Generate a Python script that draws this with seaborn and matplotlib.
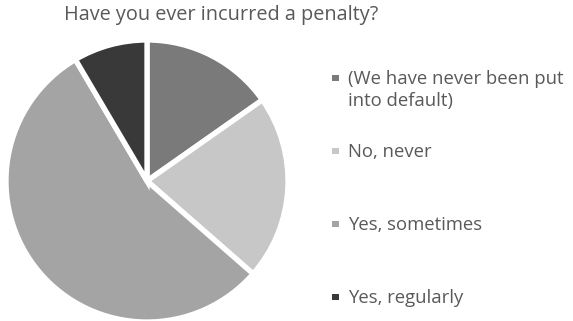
import matplotlib
matplotlib.use("Agg")
import matplotlib.pyplot as plt
from matplotlib.patches import Rectangle
import seaborn as sns

# Survey answers: "Have you ever incurred a penalty?"
categories = ["(We have never been put\ninto default)", "No, never", "Yes, sometimes", "Yes, regularly"]
responses = [18, 25, 65, 10]
colors = ["#7a7a7a", "#c6c7c6", "#a4a4a4", "#393939"]
title = "Have you ever incurred a penalty?"

sns.set_theme(style="white")
plt.rcParams["font.family"] = ["Open Sans", "DejaVu Sans"]

W, H = 573, 321
fig = plt.figure(figsize=(W / 100, H / 100), dpi=100)
fig.patch.set_facecolor("white")

# pie axes: centre and radius in pixels
cx, cy, r = 147, 181, 141
ax = fig.add_axes([(cx - r) / W, (H - cy - r) / H, 2 * r / W, 2 * r / H])
ax.pie(responses, colors=colors, startangle=90, counterclock=False, radius=1.0,
       wedgeprops=dict(edgecolor="white", linewidth=3.8, joinstyle="miter"))
ax.set_xlim(-1, 1)
ax.set_ylim(-1, 1)
ax.set_aspect("equal")
ax.axis("off")

text_color = "#595959"
fig.text(221 / W, 1 - 15 / H, title, ha="center", va="center", fontsize=14.3, color=text_color)

# legend drawn at the right
ys = [78, 151, 224, 297]
for lab, col, y in zip(categories, colors, ys):
    sq = 6.5
    fig.patches.append(Rectangle(((332) / W, 1 - (y + sq / 2) / H), sq / W, sq / H,
                                 transform=fig.transFigure, facecolor=col, edgecolor="none"))
    fig.text(348 / W, 1 - (y - 8) / H, lab, ha="left", va="top", fontsize=13.3,
             color=text_color, linespacing=1.28)

fig.savefig("out.png", dpi=100, facecolor="white")
